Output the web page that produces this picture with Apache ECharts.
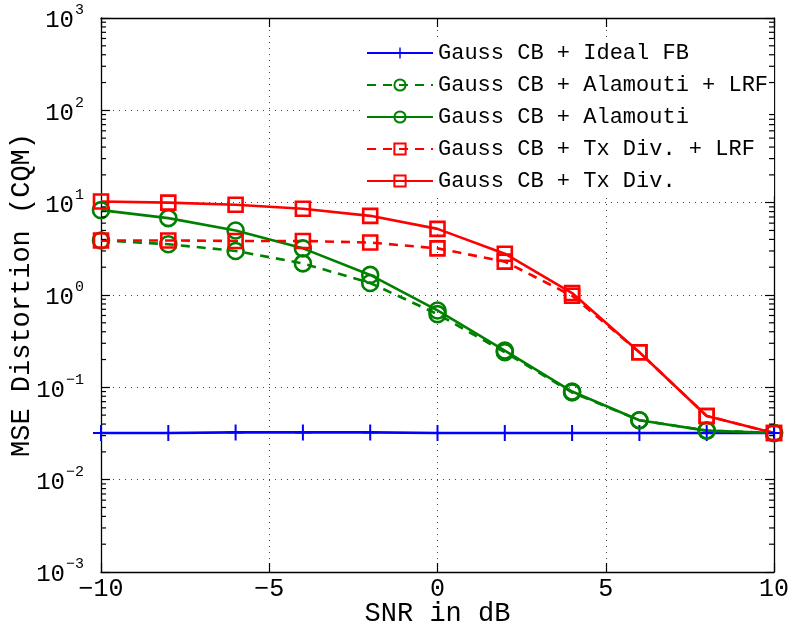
<!DOCTYPE html>
<html><head><meta charset="utf-8">
<script src="https://cdn.jsdelivr.net/npm/echarts@6/dist/echarts.min.js"></script>
<style>html,body{margin:0;padding:0;background:#fff}#c{width:792px;height:627px}</style>
</head><body><div id="c"></div>
<script>
var snr = [-10,-8,-6,-4,-2,0,2,4,6,8,10];
var idealFB = [0.032,0.032,0.0325,0.0325,0.0325,0.032,0.032,0.032,0.032,0.032,0.032];
var alamoutiLRF = [3.9,3.55,3.0,2.2,1.35,0.62,0.24,0.088,0.044,0.034,0.032];
var alamouti = [8.3,6.8,5.0,3.2,1.65,0.68,0.25,0.09,0.044,0.034,0.032];
var txDivLRF = [3.9,3.9,3.85,3.85,3.7,3.2,2.3,0.98,0.24,0.049,0.032];
var txDiv = [10.3,10,9.5,8.6,7.2,5.2,2.8,1.05,0.24,0.049,0.032];
var seriesNames = ['Gauss CB + Ideal FB','Gauss CB + Alamouti + LRF','Gauss CB + Alamouti','Gauss CB + Tx Div. + LRF','Gauss CB + Tx Div.'];
var xTicks = [-10,-5,0,5,10];
var yMajor = [1e-3,1e-2,1e-1,1,10,100,1000];
var yMinor = [];
for (var ex=-3;ex<3;ex++){ for (var m=2;m<=9;m++){ yMinor.push(m*Math.pow(10,ex)); } }

var MONO = '"Liberation Mono","DejaVu Sans Mono",monospace';
function pairs(ys){ return snr.map(function(x,i){return [x,ys[i]];}); }
var plusPath = 'path://M-1,-8L1,-8L1,-1L8,-1L8,1L1,1L1,8L-1,8L-1,1L-8,1L-8,-1L-1,-1Z';

function mk(name, ys, color, dashed, symbol, size){
  var isPlus = symbol === 'plus';
  return {
    name: name, type: 'line', data: pairs(ys),
    xAxisIndex: 0, yAxisIndex: 0,
    symbol: isPlus ? plusPath : symbol, symbolSize: size, showAllSymbol: true,
    lineStyle: {color: color, width: 2.6, type: dashed ? [9,7] : 'solid'},
    itemStyle: isPlus ? {color: color, borderWidth: 0} : {color: 'rgba(255,255,255,0)', borderColor: color, borderWidth: 2.6},
    emphasis: {disabled: true}, animation: false, z: 3
  };
}

var chart = echarts.init(document.getElementById('c'), null, {renderer: 'canvas'});
var axisLineStyle = {color: '#000', width: 1.3};
var option = {
  backgroundColor: '#fff',
  animation: false,
  grid: {left: 101, right: 18, top: 18, bottom: 55, containLabel: false, outerBoundsMode: 'none'},
  legend: {
    orient: 'vertical', left: 362, top: 38,
    itemWidth: 66, itemHeight: 14, itemGap: 10,
    backgroundColor: '#fff', padding: [4, 6, 4, 4],
    textStyle: {fontFamily: MONO, fontSize: 22, color: '#000', padding: [0,0,0,0]},
    data: seriesNames
  },
  xAxis: [{
    type: 'value', min: -10, max: 10, interval: 5, position: 'bottom',
    axisLine: {show: true, onZero: false, lineStyle: axisLineStyle},
    axisTick: {show: true, inside: true, length: 9, lineStyle: {color: '#000', width: 1.2}, customValues: xTicks},
    axisLabel: {fontFamily: MONO, fontSize: 25, color: '#000', margin: 5, customValues: xTicks,
      formatter: function(v){ return v < 0 ? '\u2212' + (-v) : String(v); }},
    splitLine: {show: true, lineStyle: {color: '#444', width: 1, type: [1, 5]}},
    name: 'SNR in dB', nameLocation: 'middle', nameGap: 28, nameMoveOverlap: false,
    nameTextStyle: {fontFamily: MONO, fontSize: 27, color: '#000'}
  },{
    type: 'value', min: -10, max: 10, interval: 5, position: 'top',
    axisLine: {show: true, onZero: false, lineStyle: axisLineStyle},
    axisTick: {show: true, inside: true, length: 9, lineStyle: {color: '#000', width: 1.2}},
    axisLabel: {show: false}, splitLine: {show: false}
  }],
  yAxis: [{
    type: 'log', logBase: 10, min: 0.001, max: 1000, splitNumber: 6, position: 'left',
    axisLine: {show: true, onZero: false, lineStyle: axisLineStyle},
    axisTick: {show: true, inside: true, length: 9, lineStyle: {color: '#000', width: 1.2}, customValues: yMajor},
    axisLabel: {margin: 17, customValues: yMajor,
      formatter: function(v){ var p = Math.round(Math.log10(v)); return '{b|10}{s|' + (p < 0 ? '\u2212' + (-p) : p) + '}'; },
      rich: {
        b: {fontFamily: MONO, fontSize: 24, color: '#000', lineHeight: 30, verticalAlign: 'bottom'},
        s: {fontFamily: MONO, fontSize: 15, color: '#000', lineHeight: 30, verticalAlign: 'top', padding: [0,0,14,1]}
      }},
    splitLine: {show: true, lineStyle: {color: '#444', width: 1, type: [1, 5]}},
    name: 'MSE Distortion (CQM)', nameLocation: 'middle', nameGap: 66, nameRotate: 90, nameMoveOverlap: false,
    nameTextStyle: {fontFamily: MONO, fontSize: 27, color: '#000'}
  },{
    type: 'log', logBase: 10, min: 0.001, max: 1000, position: 'right',
    axisLine: {show: true, onZero: false, lineStyle: axisLineStyle},
    axisTick: {show: true, inside: true, length: 9, lineStyle: {color: '#000', width: 1.2}, customValues: yMajor},
    axisLabel: {show: false}, splitLine: {show: false}
  }],
  series: [
    {
      type: 'custom', name: '_minorTicks', silent: true, z: 5, clip: false,
      xAxisIndex: 0, yAxisIndex: 0,
      data: yMinor.map(function(v){ return [0, v]; }),
      renderItem: function(params, api){
        var v = api.value(1);
        var l = api.coord([-10, v]);
        var r = api.coord([10, v]);
        var st = {stroke: '#000', lineWidth: 1.2, fill: null};
        return {type: 'group', children: [
          {type: 'line', shape: {x1: l[0], y1: l[1], x2: l[0] + 5, y2: l[1]}, style: st},
          {type: 'line', shape: {x1: r[0] - 5, y1: r[1], x2: r[0], y2: r[1]}, style: st}
        ]};
      }
    },
    mk(seriesNames[0], idealFB, '#0000ff', false, 'plus', 16),
    mk(seriesNames[1], alamoutiLRF, '#008000', true, 'circle', 16),
    mk(seriesNames[2], alamouti, '#008000', false, 'circle', 16),
    mk(seriesNames[3], txDivLRF, '#ff0000', true, 'rect', 14),
    mk(seriesNames[4], txDiv, '#ff0000', false, 'rect', 14)
  ]
};
chart.setOption(option);
</script></body></html>
